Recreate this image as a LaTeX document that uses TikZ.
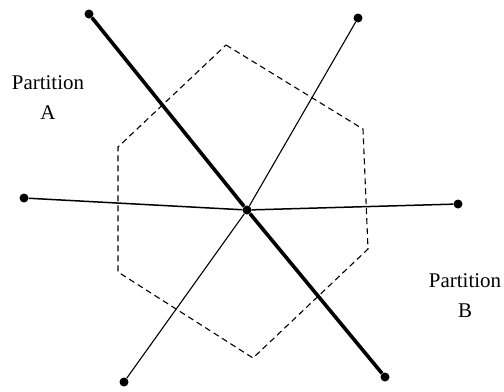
\documentclass[tikz,border=0pt]{standalone}
\usepackage{fontspec}
\setmainfont{Liberation Serif}
\usetikzlibrary{positioning}

\begin{document}
\begin{tikzpicture}[
			x=1bp, y=-1bp,
			dot/.style={
				circle,
				fill=black,
				inner sep=0pt,
				minimum size=9bp
			},
			label/.style={
				align=center,
				font=\fontsize{21}{30}\selectfont
			},
			edge/.style={line width=1.1bp},
			heavy/.style={line width=3.6bp},
			boundary/.style={line width=1.1bp, dash pattern=on 6bp off 4bp}
			]
			
			\useasboundingbox (0,0) rectangle (504,391);
			
			%%%%%%%%%%%%%%%%%%%%%%%%%%%%%%%%%%%%%%%%%%%%%%%%%%%%%%%%%%%%
			% Vertices
			%%%%%%%%%%%%%%%%%%%%%%%%%%%%%%%%%%%%%%%%%%%%%%%%%%%%%%%%%%%%
			
			\node[dot] (center) at (247,210) {};
			
			\node[dot] (nw) at (89,14) {};
			
			\node[dot] (ne) at (358,18) {};
			
			\node[dot] (west) at (24,198) {};
			
			\node[dot] (east) at (458,204) {};
			
			\node[dot] (sw) at (124,382) {};
			
			\node[dot] (se) at (385,377) {};
			
			%%%%%%%%%%%%%%%%%%%%%%%%%%%%%%%%%%%%%%%%%%%%%%%%%%%%%%%%%%%%
			% Labels
			%%%%%%%%%%%%%%%%%%%%%%%%%%%%%%%%%%%%%%%%%%%%%%%%%%%%%%%%%%%%
			
			\node[label] (parta) at (48,98) {Partition\\A};
			
			\node[label] (partb) at (465,296) {Partition\\B};
			
			%%%%%%%%%%%%%%%%%%%%%%%%%%%%%%%%%%%%%%%%%%%%%%%%%%%%%%%%%%%%
			% Region
			%%%%%%%%%%%%%%%%%%%%%%%%%%%%%%%%%%%%%%%%%%%%%%%%%%%%%%%%%%%%
			
			\draw[boundary] (226,45) -- (363,129) -- (368,249) -- (253,358)
			-- (118,272) -- (118,147) -- cycle;
			
			%%%%%%%%%%%%%%%%%%%%%%%%%%%%%%%%%%%%%%%%%%%%%%%%%%%%%%%%%%%%
			% Edges
			%%%%%%%%%%%%%%%%%%%%%%%%%%%%%%%%%%%%%%%%%%%%%%%%%%%%%%%%%%%%
			
			% cut edge
			
			\draw[heavy] (nw) -- (center);
			
			\draw[heavy] (center) -- (se);
			
			% other edges
			
			\draw[edge] (ne) -- (center);
			
			\draw[edge] (center) -- (sw);
			
			\draw[edge, line width=1.5bp] (west) -- (center);
			
			\draw[edge, line width=1.5bp] (center) -- (east);
			
			%%%%%%%%%%%%%%%%%%%%%%%%%%%%%%%%%%%%%%%%%%%%%%%%%%%%%%%%%%%%
			
		\end{tikzpicture}
\end{document}
